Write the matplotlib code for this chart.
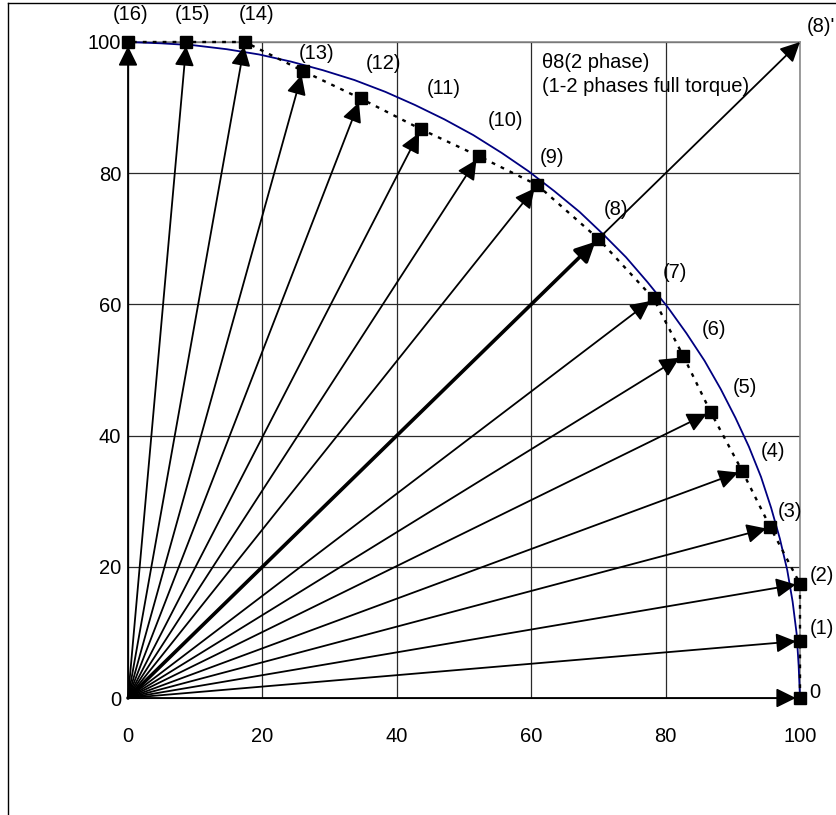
import matplotlib
matplotlib.use("Agg")
import matplotlib.pyplot as plt
from matplotlib.lines import Line2D

plt.rcParams["font.family"] = ["Liberation Sans", "DejaVu Sans"]

# Micro-step current vectors (phase A, phase B) in % of full current
step_labels = ["0", "(1)", "(2)", "(3)", "(4)", "(5)", "(6)", "(7)", "(8)",
               "(9)", "(10)", "(11)", "(12)", "(13)", "(14)", "(15)", "(16)"]
phase_a = [100.0, 100.0, 100.0, 95.6, 91.4, 86.7, 82.6, 78.2, 70.0,
           60.9, 52.2, 43.6, 34.6, 26.0, 17.4, 8.7, 0.0]
phase_b = [0.0, 8.7, 17.4, 26.0, 34.6, 43.6, 52.2, 60.9, 70.0,
           78.2, 82.6, 86.7, 91.4, 95.6, 100.0, 100.0, 100.0]

# Ideal constant-torque circle (radius 100)
circle_x = [100.0, 99.8, 99.5, 98.9, 98.1, 97.0, 95.7, 94.2, 92.4, 90.4,
            88.2, 85.8, 83.1, 80.3, 77.3, 74.1, 70.7, 67.2, 63.4, 59.6,
            55.6, 51.4, 47.1, 42.7, 38.3, 33.7, 29.0, 24.3, 19.5, 14.7,
            9.8, 4.9, 0.0]
circle_y = [0.0, 4.9, 9.8, 14.7, 19.5, 24.3, 29.0, 33.7, 38.3, 42.7,
            47.1, 51.4, 55.6, 59.6, 63.4, 67.2, 70.7, 74.1, 77.3, 80.3,
            83.1, 85.8, 88.2, 90.4, 92.4, 94.2, 95.7, 97.0, 98.1, 98.9,
            99.5, 99.8, 100.0]

# Full-torque 2-phase vector
full_torque = (100.0, 100.0)
full_torque_label = "(8)'"
note_lines = ["\u03b88(2 phase)", "(1-2 phases full torque)"]

ticks = [0, 20, 40, 60, 80, 100]

# label offsets in pixels (right, up) from each vector tip
label_offsets = [(15, 5), (22, 12), (22, 8), (20, 16), (31, 20), (34, 24),
                 (31, 26), (21, 26), (18, 29), (15, 28), (27, 36), (23, 41),
                 (23, 35), (14, 17), (12, 27), (6, 27), (3, 27)]

FS = 14.5

fig = plt.figure(figsize=(8.36, 8.15), dpi=100)
ax = fig.add_axes([128 / 836, 117 / 815, 672 / 836, 656 / 815])

ax.set_xlim(0, 100)
ax.set_ylim(0, 100)
ax.set_xticks(ticks)
ax.set_yticks(ticks)
ax.tick_params(length=0, labelsize=FS)
ax.tick_params(axis="x", pad=21)
ax.tick_params(axis="y", pad=5)
ax.grid(True, color="#2a2a2a", lw=0.9, zorder=0)
ax.set_axisbelow(True)
for side in ("top", "right"):
    ax.spines[side].set_color("#8a8a8a")
    ax.spines[side].set_linewidth(1.2)
for side in ("left", "bottom"):
    ax.spines[side].set_color("black")

# constant-torque circle
ax.plot(circle_x, circle_y, color="#000080", lw=1.3, zorder=3, clip_on=False)

# stepped locus joining the vector tips
ax.plot(phase_a, phase_b, color="black", lw=1.7, linestyle=(0, (1.6, 2.6)),
        zorder=3, clip_on=False)

head = "-|>,head_length=0.85,head_width=0.42"

# full-torque vector to (8)'
ax.annotate("", xy=full_torque, xytext=(0, 0),
            arrowprops=dict(arrowstyle=head, mutation_scale=14, lw=1.3,
                            color="black", shrinkA=0, shrinkB=0),
            annotation_clip=False, zorder=4)

# current vectors for each micro-step
for i, (xa, yb) in enumerate(zip(phase_a, phase_b)):
    lw = 2.6 if i == 8 else 1.3
    ax.annotate("", xy=(xa, yb), xytext=(0, 0),
                arrowprops=dict(arrowstyle=head, mutation_scale=14, lw=lw,
                                color="black", shrinkA=0, shrinkB=3),
                annotation_clip=False, zorder=4)

ax.plot(phase_a, phase_b, "s", ms=8, color="black", zorder=6, clip_on=False)

for lab, xa, yb, (dx, dy) in zip(step_labels, phase_a, phase_b, label_offsets):
    ax.annotate(lab, xy=(xa, yb), xytext=(dx, dy), textcoords="offset pixels",
                ha="center", va="center", fontsize=FS, annotation_clip=False)

ax.annotate(full_torque_label, xy=full_torque, xytext=(7, 15),
            textcoords="offset pixels", ha="left", va="center",
            fontsize=FS, annotation_clip=False)

ax.text(61.6, 96.8, note_lines[0], ha="left", va="center", fontsize=FS)
ax.text(61.6, 93.2, note_lines[1], ha="left", va="center", fontsize=FS)

# outer frame
fig.add_artist(Line2D([7.5 / 836, 7.5 / 836], [0, 1 - 2.5 / 815],
                      transform=fig.transFigure, color="black", lw=1.0))
fig.add_artist(Line2D([7.5 / 836, 1], [1 - 2.5 / 815, 1 - 2.5 / 815],
                      transform=fig.transFigure, color="black", lw=1.0))

fig.savefig("out.png", dpi=100)
